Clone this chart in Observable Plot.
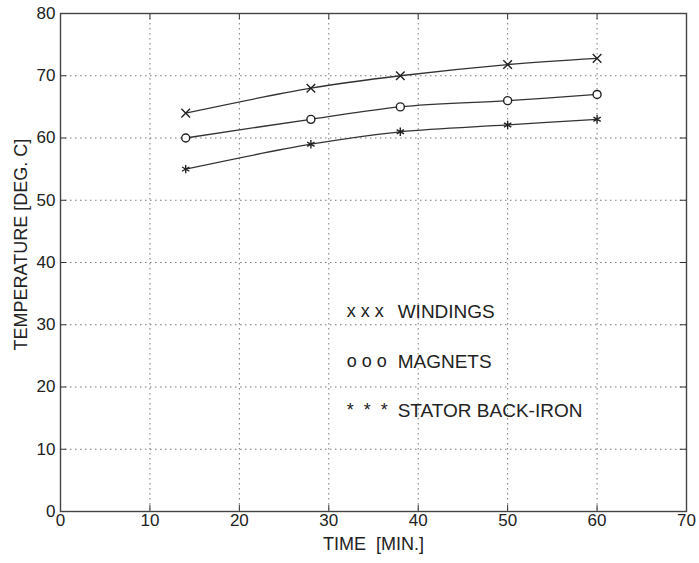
<!DOCTYPE html>
<html>
<head>
<meta charset="utf-8">
<script src="https://cdn.jsdelivr.net/npm/d3@7"></script>
<script src="https://cdn.jsdelivr.net/npm/@observablehq/plot@0.6"></script>
<style>
  html, body { margin: 0; padding: 0; background: #fff; }
  #chart { width: 699px; height: 563px; }
</style>
</head>
<body>
<div id="chart"></div>
<script>
const times = [14, 28, 38, 50, 60];
const windings = [64, 68, 70, 71.8, 72.8];
const magnets = [60, 63, 65, 66, 67];
const stator = [55, 59, 61, 62.1, 63];
const xTicks = [0, 10, 20, 30, 40, 50, 60, 70];
const yTicks = [0, 10, 20, 30, 40, 50, 60, 70, 80];
const legendMarkers = ["x x x", "o o o", "*  *  *"];
const legendNames = ["WINDINGS", "MAGNETS", "STATOR BACK-IRON"];
const legendY = [32.1, 24.1, 16.2];

const series = [
  {name: "WINDINGS", values: windings, symbol: "times"},
  {name: "MAGNETS", values: magnets, symbol: "circle"},
  {name: "STATOR BACK-IRON", values: stator, symbol: "asterisk"}
];
const data = series.flatMap(s => times.map((t, i) => ({time: t, temp: s.values[i], name: s.name, symbol: s.symbol})));
const legend = legendNames.map((n, i) => ({marker: legendMarkers[i], name: n, y: legendY[i]}));

const font = "'Liberation Sans', Arial, Helvetica, sans-serif";

const chart = Plot.plot({
  width: 699,
  height: 563,
  marginLeft: 60,
  marginRight: 13,
  marginTop: 13,
  marginBottom: 52,
  style: {fontFamily: font, fontSize: "17px", color: "#222", background: "#fff"},
  x: {domain: [0, 70]},
  y: {domain: [0, 80]},
  marks: [
    Plot.ruleX(xTicks.slice(1, -1), {stroke: "#777", strokeDasharray: "1.5,3.5", strokeWidth: 1}),
    Plot.ruleY(yTicks.slice(1, -1), {stroke: "#777", strokeDasharray: "1.5,3.5", strokeWidth: 1}),
    Plot.ruleX(xTicks, {y1: 0, y2: 1, stroke: "#333"}),
    Plot.ruleX(xTicks, {y1: 79, y2: 80, stroke: "#333"}),
    Plot.ruleY(yTicks, {x1: 0, x2: 0.7, stroke: "#333"}),
    Plot.ruleY(yTicks, {x1: 69.3, x2: 70, stroke: "#333"}),
    Plot.frame({stroke: "#444", strokeWidth: 1.4}),
    Plot.axisX(xTicks, {tickSize: 0, tickPadding: 2, label: null, fontSize: 17}),
    Plot.axisY(yTicks, {tickSize: 0, tickPadding: 5, label: null, fontSize: 17}),
    Plot.line(data, {x: "time", y: "temp", z: "name", curve: "catmull-rom", stroke: "#333", strokeWidth: 1.3}),
    Plot.dot(data, {x: "time", y: "temp", symbol: "symbol", r: 4, stroke: "#222", strokeWidth: 1.4, fill: d => d.symbol === "circle" ? "white" : "none"}),
    Plot.text(legend, {x: 32, y: "y", text: "marker", textAnchor: "start", fontSize: 18, fill: "#222"}),
    Plot.text(legend, {x: 32, y: "y", dx: 51, text: "name", textAnchor: "start", fontSize: 19, fill: "#222"}),
    Plot.text(["TIME  [MIN.]"], {frameAnchor: "bottom", dy: 38, fontSize: 18, fill: "#222"}),
    Plot.text(["TEMPERATURE [DEG. C]"], {frameAnchor: "left", textAnchor: "start", dx: -39, dy: 88, rotate: -90, fontSize: 18, fill: "#222"})
  ]
});
document.getElementById("chart").appendChild(chart);
</script>
</body>
</html>
